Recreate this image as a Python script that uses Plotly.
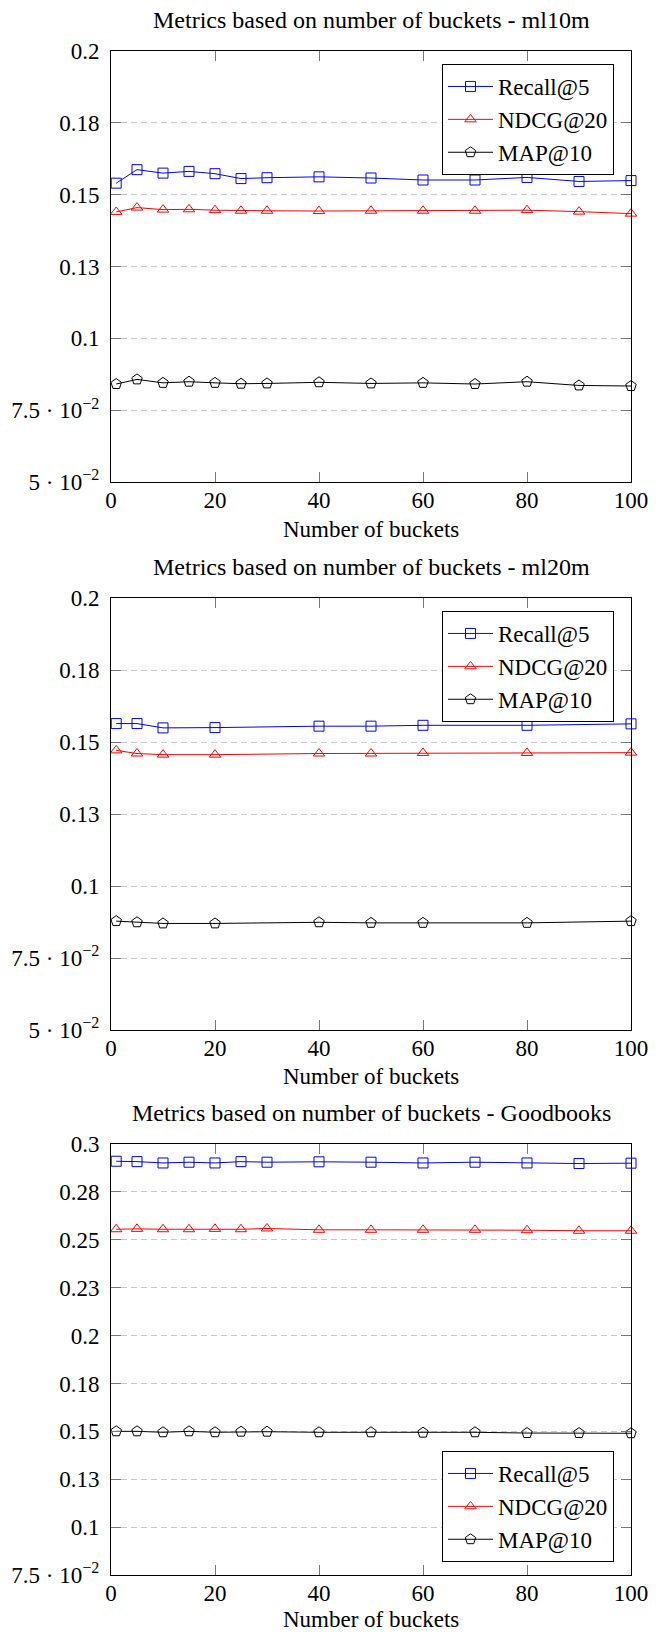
import plotly.graph_objects as go

# ---------------- data ----------------
buckets_ml10m = [1, 5, 10, 15, 20, 25, 30, 40, 50, 60, 70, 80, 90, 100]
recall_ml10m = [0.1540, 0.1587, 0.1575, 0.1581, 0.1573, 0.1556, 0.1559, 0.1562, 0.1558, 0.1551, 0.1551, 0.1560, 0.1546, 0.1549]
ndcg_ml10m = [0.1440, 0.1455, 0.1448, 0.1449, 0.1446, 0.1444, 0.1444, 0.1443, 0.1444, 0.1444, 0.1444, 0.1446, 0.1441, 0.1434]
map_ml10m = [0.0841, 0.0857, 0.0845, 0.0849, 0.0845, 0.0842, 0.0843, 0.0847, 0.0843, 0.0845, 0.0841, 0.0849, 0.0836, 0.0834]

buckets_ml20m = [1, 5, 10, 20, 40, 50, 60, 80, 100]
recall_ml20m = [0.1564, 0.1564, 0.1549, 0.1550, 0.1555, 0.1555, 0.1558, 0.1558, 0.1563]
ndcg_ml20m = [0.1471, 0.1460, 0.1456, 0.1456, 0.1460, 0.1460, 0.1462, 0.1462, 0.1463]
map_ml20m = [0.0878, 0.0874, 0.0870, 0.0870, 0.0874, 0.0872, 0.0872, 0.0872, 0.0878]

buckets_goodbooks = [1, 5, 10, 15, 20, 25, 30, 40, 50, 60, 70, 80, 90, 100]
recall_goodbooks = [0.2910, 0.2908, 0.2901, 0.2905, 0.2901, 0.2908, 0.2905, 0.2907, 0.2905, 0.2901, 0.2905, 0.2901, 0.2898, 0.2900]
ndcg_goodbooks = [0.2555, 0.2557, 0.2555, 0.2555, 0.2557, 0.2555, 0.2559, 0.2552, 0.2552, 0.2552, 0.2552, 0.2550, 0.2547, 0.2547]
map_goodbooks = [0.1500, 0.1500, 0.1495, 0.1500, 0.1495, 0.1498, 0.1498, 0.1495, 0.1495, 0.1493, 0.1495, 0.1491, 0.1491, 0.1490]

series_names = ["Recall@5", "NDCG@20", "MAP@10"]
titles = ["Metrics based on number of buckets - ml10m",
          "Metrics based on number of buckets - ml20m",
          "Metrics based on number of buckets - Goodbooks"]
x_label = "Number of buckets"

x_ticks = [0, 20, 40, 60, 80, 100]
y_ticks_ml = [0.05, 0.075, 0.1, 0.125, 0.15, 0.175, 0.2]
y_ticktext_ml = ["5 · 10<sup>−2</sup>", "7.5 · 10<sup>−2</sup>", "0.1", "0.13", "0.15", "0.18", "0.2"]
y_ticks_gb = [0.075, 0.1, 0.125, 0.15, 0.175, 0.2, 0.225, 0.25, 0.275, 0.3]
y_ticktext_gb = ["7.5 · 10<sup>−2</sup>", "0.1", "0.13", "0.15", "0.18", "0.2", "0.23", "0.25", "0.28", "0.3"]

# ---------------- styling ----------------
FONT = "Liberation Serif"
FS = 23
styles = [
    dict(color="#0000ff", symbol="square-open", size=10),
    dict(color="#ff0000", symbol="triangle-up-open", size=10),
    dict(color="#000000", symbol="pentagon-open", size=11),
]

panels = [
    (buckets_ml10m, [recall_ml10m, ndcg_ml10m, map_ml10m], [0.05, 0.2], y_ticks_ml, y_ticktext_ml),
    (buckets_ml20m, [recall_ml20m, ndcg_ml20m, map_ml20m], [0.05, 0.2], y_ticks_ml, y_ticktext_ml),
    (buckets_goodbooks, [recall_goodbooks, ndcg_goodbooks, map_goodbooks], [0.075, 0.3], y_ticks_gb, y_ticktext_gb),
]

W, H = 659, 1635
ML, MR, MT, MB = 111, 28, 51, 60
PH = H - MT - MB


def py(ypx):
    return (H - MB - ypx) / PH


domains = [[py(482), py(51)], [py(1030), py(598)], [0.0, py(1144)]]
title_y = [py(20), py(567), py(1113)]
xlabel_y = [py(529), py(1076), py(1619)]
legend_cfg = [
    dict(x=(614 - ML) / (W - ML - MR), y=py(64), xanchor="right", yanchor="top"),
    dict(x=(614 - ML) / (W - ML - MR), y=py(611), xanchor="right", yanchor="top"),
    dict(x=(614 - ML) / (W - ML - MR), y=py(1562), xanchor="right", yanchor="bottom"),
]

fig = go.Figure()
layout = dict(
    width=W, height=H,
    margin=dict(l=ML, r=MR, t=MT, b=MB, autoexpand=False),
    paper_bgcolor="white", plot_bgcolor="white",
    font=dict(family=FONT, size=FS, color="black"),
    showlegend=True,
    annotations=[],
)

for i, (xs, ys_list, yr, yt, ytt) in enumerate(panels):
    n = i + 1
    xa = "x" if n == 1 else f"x{n}"
    ya = "y" if n == 1 else f"y{n}"
    lg = "legend" if n == 1 else f"legend{n}"
    for name, ys, st in zip(series_names, ys_list, styles):
        fig.add_trace(go.Scatter(
            x=xs, y=ys, name=name, mode="lines+markers",
            xaxis=xa, yaxis=ya, legend=lg, cliponaxis=False,
            line=dict(color=st["color"], width=1),
            marker=dict(symbol=st["symbol"], size=st["size"], color=st["color"],
                        line=dict(color=st["color"], width=1)),
        ))
    xkey = "xaxis" if n == 1 else f"xaxis{n}"
    ykey = "yaxis" if n == 1 else f"yaxis{n}"
    layout[xkey] = dict(
        domain=[0, 1], anchor=ya, range=[0, 100], automargin=False,
        tickvals=x_ticks, ticks="inside", ticklen=10, tickcolor="#777777",
        showline=True, linecolor="black", linewidth=1, mirror="ticks",
        showgrid=False, zeroline=False,
        tickfont=dict(family=FONT, size=FS, color="black"),
        ticklabelstandoff=-3,
    )
    layout[ykey] = dict(
        domain=domains[i], anchor=xa, range=yr, automargin=False,
        tickvals=yt, ticktext=ytt, ticks="inside", ticklen=10, tickcolor="#777777",
        showline=True, linecolor="black", linewidth=1, mirror="ticks",
        showgrid=True, gridcolor="#c8c8c8", griddash="6px,4px", gridwidth=1,
        zeroline=False,
        tickfont=dict(family=FONT, size=FS, color="black"),
        ticklabelstandoff=6,
    )
    layout[lg] = dict(
        **legend_cfg[i], xref="paper", yref="paper",
        bgcolor="white", bordercolor="black", borderwidth=1,
        font=dict(family=FONT, size=FS, color="black"),
        itemwidth=45, tracegroupgap=0,
    )
    layout["annotations"].append(dict(
        text=titles[i], x=0.5, y=title_y[i], xref="paper", yref="paper",
        xanchor="center", yanchor="middle", showarrow=False,
        font=dict(family=FONT, size=FS + 1, color="black"),
    ))
    layout["annotations"].append(dict(
        text=x_label, x=0.5, y=xlabel_y[i], xref="paper", yref="paper",
        xanchor="center", yanchor="middle", showarrow=False,
        font=dict(family=FONT, size=FS, color="black"),
    ))

fig.update_layout(**layout)
# the page's default 8px body margin would push the figure off the window
fig.write_html("out.html", config={"displayModeBar": False},
               post_script="document.body.style.margin='0';")
